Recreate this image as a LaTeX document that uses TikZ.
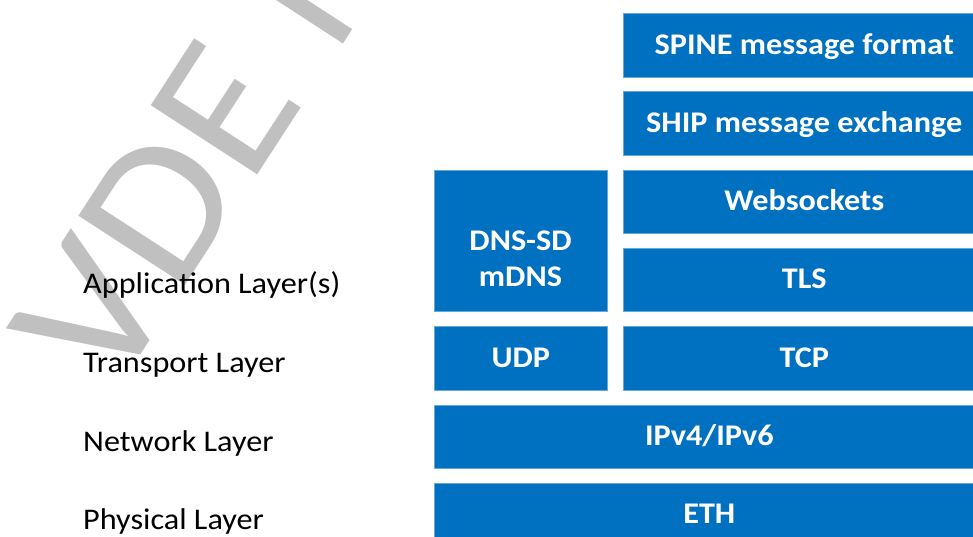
\documentclass[tikz,border=0pt]{standalone}
\usepackage{fontspec}
\setmainfont{Carlito}[FakeStretch=1.075]
\definecolor{layerblue}{HTML}{0070C0}
\definecolor{wmgray}{HTML}{C0C0C0}
\newcommand\blockfont{\fontsize{30}{36}\selectfont\bfseries}
\newcommand\labelfont{\fontsize{30}{36}\selectfont}
\begin{document}
\begin{tikzpicture}[x=1pt,y=-1pt,
  block/.style={fill=layerblue, draw=layerblue!60!white, line width=0.6pt,
    text=white, font=\blockfont, inner sep=0pt, anchor=north west,
    minimum height=63.5pt, text height=40.75pt, text depth=22.75pt},
  blocktext/.style={text=white, font=\blockfont, inner sep=0pt, align=center},
  wide/.style={minimum width=550pt},
  rightcol/.style={minimum width=362pt},
  leftcol/.style={minimum width=173pt},
  layer/.style={anchor=base west, inner sep=0pt, font=\labelfont}]
\useasboundingbox (0,0) rectangle (973,536);
\clip (0,0) rectangle (973,536);

% watermark in the background
\node[font=\fontsize{198}{198}\selectfont, text=wmgray, rotate=57,
      anchor=base west, inner sep=0pt] (wmark) at (112,399) {VDE};
\begin{scope}[shift={(wmark.base west)}, rotate=57]
  \fill[wmgray] (424,0) rectangle (441,-130);
\end{scope}

% layer names
\node[layer] (app)   at (83,293.5) {Application Layer(s)};
\node[layer] (trans) at (83,372) {Transport Layer};
\node[layer] (net)   at (83,451) {Network Layer};
\node[layer] (phys)  at (83,529) {Physical Layer};

% protocol stack
\node[block, rightcol] (spine) at (623,13)    {SPINE message format};
\node[block, rightcol] (ship)  at (623,91.3)  {SHIP message exchange};
\node[block, rightcol] (ws)    at (623,169.6) {Websockets};
\node[block, rightcol] (tls)   at (623,247.9) {TLS};
\node[block, rightcol] (tcp)   at (623,326.2) {TCP};
\node[block, leftcol, minimum height=141.8pt] (dns) at (434,169.6) {};
\node[blocktext] (dnstext) at (520.5,258.7) {DNS-SD\\mDNS};
\node[block, leftcol]  (udp)   at (434,326.2) {UDP};
\node[block, wide]     (ip)    at (434,404.5) {IPv4/IPv6};
\node[block, wide]     (eth)   at (434,482.8) {ETH};
\end{tikzpicture}
\end{document}
